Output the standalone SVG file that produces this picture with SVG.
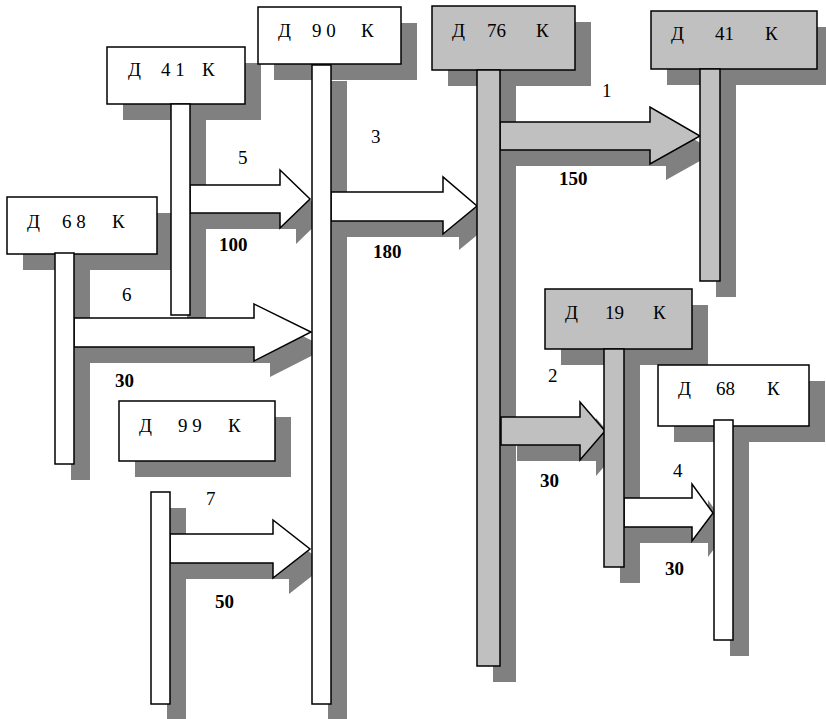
<svg xmlns="http://www.w3.org/2000/svg" width="826" height="719" viewBox="0 0 826 719">
<style>
.sh{fill:#808080;stroke:none}
.w{fill:#ffffff;stroke:#000;stroke-width:1.5}
.g{fill:#c0c0c0;stroke:#000;stroke-width:1.5}
text{font-family:'Liberation Serif','Times New Roman',serif;font-size:19px;fill:#000}
.b{font-weight:bold;font-size:19px}
</style>
<rect width="826" height="719" fill="#fff"/>
<g id="shadows">
<rect class="sh" x="274" y="23" width="143" height="57"/>
<rect class="sh" x="123" y="63" width="138" height="57"/>
<rect class="sh" x="23" y="213" width="150" height="57"/>
<rect class="sh" x="135" y="417" width="156" height="60"/>
<rect class="sh" x="448" y="22" width="143" height="64"/>
<rect class="sh" x="667" y="27" width="166" height="58"/>
<rect class="sh" x="561" y="305" width="147" height="60"/>
<rect class="sh" x="674" y="381" width="151" height="61"/>
<rect class="sh" x="71" y="269" width="19" height="211"/>
<rect class="sh" x="187" y="120" width="19" height="211"/>
<rect class="sh" x="328" y="81" width="19" height="639"/>
<rect class="sh" x="167" y="508" width="19" height="212"/>
<rect class="sh" x="493" y="86" width="23" height="596"/>
<rect class="sh" x="716" y="85" width="20" height="212"/>
<rect class="sh" x="620" y="365" width="20" height="218"/>
<rect class="sh" x="730" y="436" width="19" height="220"/>
<polygon class="sh" points="206,201 296,201 296,186 326,215 296,244 296,229 206,229"/>
<polygon class="sh" points="90,334 270,334 270,320 327,348 270,377 270,363 90,363"/>
<polygon class="sh" points="186,550 289,550 289,536 326,565 289,594 289,579 186,579"/>
<polygon class="sh" points="347,208 459,208 459,193 493,222 459,250 459,237 347,237"/>
<polygon class="sh" points="516,138 666,138 666,123 716,152 666,180 666,166 516,166"/>
<polygon class="sh" points="517,433 596,433 596,418 621,447 596,476 596,461 517,461"/>
<polygon class="sh" points="640,514 708,514 708,500 729,529 708,557 708,543 640,543"/>
</g>
<g id="connectors">
<polygon class="w" points="190,185 280,185 280,170 310,199 280,228 280,213 190,213"/>
<polygon class="w" points="74,318 254,318 254,304 311,332 254,361 254,347 74,347"/>
<polygon class="w" points="170,534 273,534 273,520 310,549 273,578 273,563 170,563"/>
<polygon class="w" points="331,192 443,192 443,177 477,206 443,234 443,221 331,221"/>
<polygon class="g" points="500,122 650,122 650,107 700,136 650,164 650,150 500,150"/>
<polygon class="g" points="501,417 580,417 580,402 605,431 580,460 580,445 501,445"/>
<polygon class="w" points="624,498 692,498 692,484 713,513 692,541 692,527 624,527"/>
<text x="238" y="164">5</text>
<text class="b" x="219" y="251">100</text>
<text x="122" y="301">6</text>
<text class="b" x="115" y="387">30</text>
<text x="206" y="505">7</text>
<text class="b" x="215" y="608">50</text>
<text x="371" y="143">3</text>
<text class="b" x="373" y="258">180</text>
<text x="602" y="97">1</text>
<text class="b" x="559" y="185">150</text>
<text x="548" y="382">2</text>
<text class="b" x="540" y="487">30</text>
<text x="673" y="477">4</text>
<text class="b" x="665" y="575">30</text>
</g>
<g id="n90">
<rect class="w" x="258" y="7" width="143" height="57"/>
<rect class="w" x="312" y="65" width="19" height="639"/>
<text y="37"><tspan x="278">Д</tspan><tspan x="312">9 0</tspan><tspan x="361">К</tspan></text>
</g>
<g id="n41a">
<rect class="w" x="107" y="47" width="138" height="57"/>
<rect class="w" x="171" y="104" width="19" height="211"/>
<text y="76"><tspan x="128">Д</tspan><tspan x="161">4 1</tspan><tspan x="202">К</tspan></text>
</g>
<g id="n68a">
<rect class="w" x="7" y="197" width="150" height="57"/>
<rect class="w" x="55" y="253" width="19" height="211"/>
<text y="228"><tspan x="27">Д</tspan><tspan x="62">6 8</tspan><tspan x="112">К</tspan></text>
</g>
<g id="n99">
<rect class="w" x="119" y="401" width="156" height="60"/>
<text y="432"><tspan x="139">Д</tspan><tspan x="178">9 9</tspan><tspan x="228">К</tspan></text>
</g>
<g id="n7src">
<rect class="w" x="151" y="492" width="19" height="212"/>
</g>
<g id="n76">
<rect class="g" x="432" y="6" width="143" height="64"/>
<rect class="g" x="477" y="70" width="23" height="596"/>
<text y="37"><tspan x="452">Д</tspan><tspan x="487">76</tspan><tspan x="536">К</tspan></text>
</g>
<g id="n41b">
<rect class="g" x="651" y="11" width="166" height="58"/>
<rect class="g" x="700" y="69" width="20" height="212"/>
<text y="40"><tspan x="671">Д</tspan><tspan x="715">41</tspan><tspan x="765">К</tspan></text>
</g>
<g id="n19">
<rect class="g" x="545" y="289" width="147" height="60"/>
<rect class="g" x="604" y="349" width="20" height="218"/>
<text y="319"><tspan x="565">Д</tspan><tspan x="605">19</tspan><tspan x="653">К</tspan></text>
</g>
<g id="n68b">
<rect class="w" x="658" y="365" width="151" height="61"/>
<rect class="w" x="714" y="420" width="19" height="220"/>
<text y="395"><tspan x="678">Д</tspan><tspan x="716">68</tspan><tspan x="767">К</tspan></text>
</g>
</svg>
